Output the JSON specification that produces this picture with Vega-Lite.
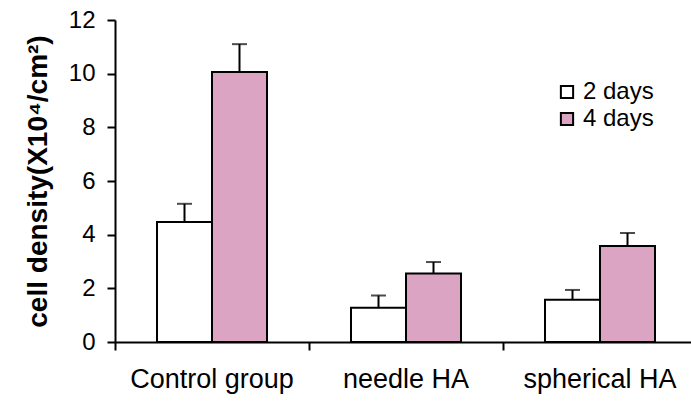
{
  "$schema": "https://vega.github.io/schema/vega-lite/v6.json",
  "width": 576,
  "height": 322,
  "autosize": {"type": "none"},
  "padding": {"left": 115, "top": 20, "right": 0, "bottom": 66},
  "background": "white",
  "config": {
    "view": {"stroke": null},
    "font": "Liberation Sans",
    "axis": {"grid": false, "domainColor": "black", "domainWidth": 2, "tickColor": "black", "tickWidth": 2, "labelColor": "black", "labelFont": "Liberation Sans", "titleColor": "black"}
  },
  "data": {
    "values": [
      {"group": "Control group", "series": "2 days", "value": 4.47, "upper": 5.15},
      {"group": "Control group", "series": "4 days", "value": 10.06, "upper": 11.1},
      {"group": "needle HA", "series": "2 days", "value": 1.28, "upper": 1.73},
      {"group": "needle HA", "series": "4 days", "value": 2.55, "upper": 2.98},
      {"group": "spherical HA", "series": "2 days", "value": 1.57, "upper": 1.94},
      {"group": "spherical HA", "series": "4 days", "value": 3.58, "upper": 4.06}
    ]
  },
  "encoding": {
    "x": {
      "field": "group", "type": "nominal", "sort": null,
      "scale": {"paddingInner": 0, "paddingOuter": 0, "range": [0, 582]},
      "axis": {"title": null, "labelAngle": 0, "bandPosition": 0, "tickSize": 8, "labelPadding": 16, "labelFontSize": 27}
    },
    "xOffset": {
      "field": "series", "type": "nominal", "sort": null,
      "scale": {"paddingInner": 0, "paddingOuter": 0.7636}
    }
  },
  "layer": [
    {
      "mark": {"type": "rule", "stroke": "black", "strokeWidth": 2},
      "encoding": {
        "y": {"field": "value", "type": "quantitative"},
        "y2": {"field": "upper"}
      }
    },
    {
      "mark": {"type": "tick", "color": "black", "thickness": 2, "size": 15},
      "encoding": {
        "y": {"field": "upper", "type": "quantitative"}
      }
    },
    {
      "mark": {"type": "bar", "stroke": "black", "strokeWidth": 2},
      "encoding": {
        "y": {
          "field": "value", "type": "quantitative",
          "scale": {"domain": [0, 12], "nice": false},
          "axis": {"values": [0, 2, 4, 6, 8, 10, 12], "tickSize": 8, "labelPadding": 12, "labelFontSize": 24, "title": "cell density(X10⁴/cm²)", "titleFont": "Liberation Sans", "titleFontSize": 28, "titleFontWeight": "bold", "titlePadding": 16}
        },
        "fill": {
          "field": "series", "type": "nominal",
          "scale": {"domain": ["2 days", "4 days"], "range": ["white", "#dba4c3"]},
          "legend": {"title": null, "orient": "none", "legendX": 440, "legendY": 60, "symbolType": "square", "symbolSize": 150, "symbolStrokeColor": "black", "symbolStrokeWidth": 2, "labelFontSize": 24, "labelFont": "Liberation Sans", "labelColor": "black", "rowPadding": 3, "labelOffset": 4}
        }
      }
    }
  ]
}
